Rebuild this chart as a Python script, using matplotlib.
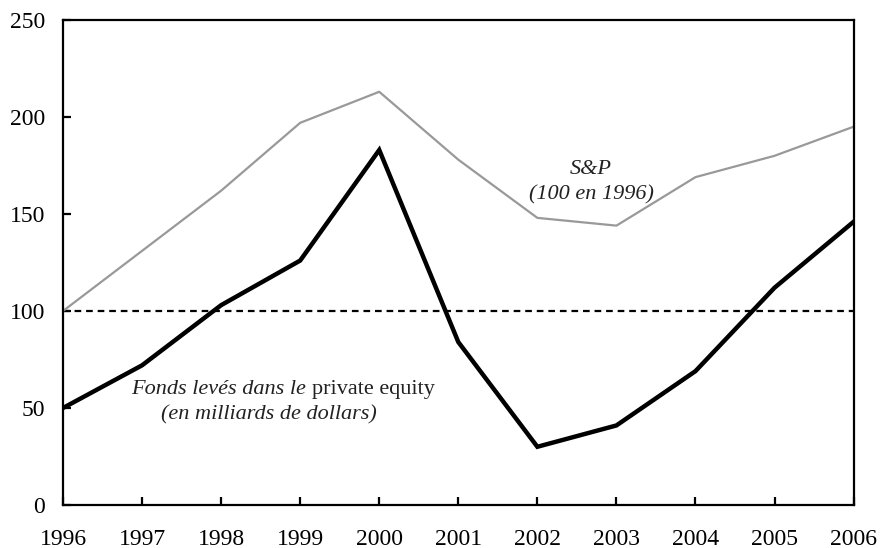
import matplotlib
matplotlib.use("Agg")
import matplotlib.pyplot as plt

# --- data ---
years = [1996, 1997, 1998, 1999, 2000, 2001, 2002, 2003, 2004, 2005, 2006]
private_equity = [50, 72, 103, 126, 183, 84, 30, 41, 69, 112, 146]
sp_index = [100, 131, 162, 197, 213, 178, 148, 144, 169, 180, 195]
baseline = 100
y_ticks = [0, 50, 100, 150, 200, 250]

plt.rcParams["font.family"] = ["Liberation Serif", "DejaVu Serif"]

fig = plt.figure(figsize=(8.8, 5.48), dpi=100)
ax = fig.add_axes([0.0716, 0.0785, 0.8984, 0.885])

ax.axhline(baseline, color="black", lw=1.6, ls=(0, (3, 2.2)), zorder=1)
ax.plot(years, sp_index, color="#999999", lw=1.6, zorder=2)
ax.plot(years, private_equity, color="black", lw=3.2,
        solid_joinstyle="miter", zorder=3)

ax.set_xlim(years[0], years[-1])
ax.set_ylim(y_ticks[0], y_ticks[-1])
ax.set_xticks(years)
ax.set_yticks(y_ticks)
ax.tick_params(axis="both", direction="in", length=6, width=1.6,
               labelsize=17, colors="black")
ax.tick_params(axis="x", pad=17)
ax.tick_params(axis="y", pad=13)
for s in ax.spines.values():
    s.set_linewidth(1.6)

# --- annotations ---
note = dict(style="italic", fontsize=16, va="center", color="#222222")
ax.text(2002.68, 173, "S&P", ha="center", **note)
ax.text(2002.68, 160, "(100 en 1996)", ha="center", **note)

t1 = ax.text(1999.15, 59.5, "Fonds levés dans le ", ha="right", **note)
ax.annotate("private equity", xy=(1, 0), xycoords=t1, va="bottom",
            ha="left", fontsize=16, color="#222222")
ax.text(1998.61, 46.5, "(en milliards de dollars)", ha="center", **note)

fig.savefig("out.png", dpi=100, facecolor="white")
